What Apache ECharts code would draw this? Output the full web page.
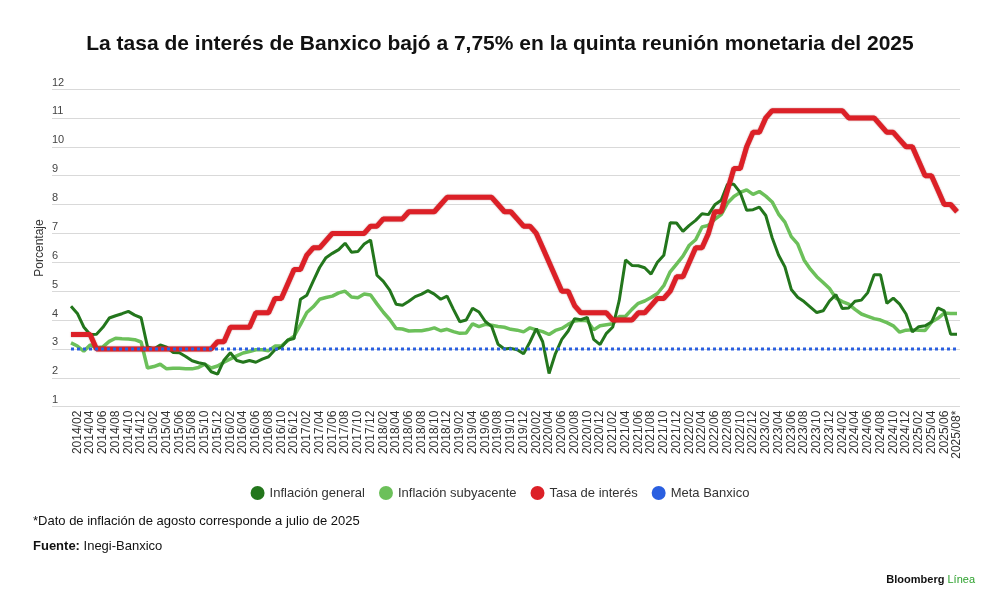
<!DOCTYPE html>
<html><head><meta charset="utf-8">
<script src="https://cdn.jsdelivr.net/npm/echarts@6/dist/echarts.min.js"></script>
<style>html,body{margin:0;padding:0;background:#fff}#c{width:1000px;height:608px}</style>
</head><body><div id="c"></div>
<script>
// Monthly categories 2014/01 .. 2025/08 (last one marked with *)
const startYear = 2014, endYear = 2025, lastMonth = 8;
const categories = [];
for (let y = startYear; y <= endYear; y++) {
  for (let m = 1; m <= 12; m++) {
    if (y === endYear && m > lastMonth) break;
    categories.push(y + '/' + String(m).padStart(2, '0'));
  }
}
categories[categories.length - 1] += '*';

// Inflación general (%), monthly
const inflacionGeneral = [
  4.48, 4.23, 3.76, 3.50, 3.51, 3.75, 4.07, 4.15, 4.22, 4.30, 4.17, 4.08,
  3.07, 3.00, 3.14, 3.06, 2.88, 2.87, 2.74, 2.59, 2.52, 2.48, 2.21, 2.13,
  2.61, 2.87, 2.60, 2.54, 2.60, 2.54, 2.65, 2.73, 2.97, 3.06, 3.31, 3.36,
  4.72, 4.86, 5.35, 5.82, 6.16, 6.31, 6.44, 6.66, 6.35, 6.37, 6.63, 6.77,
  5.55, 5.34, 5.04, 4.55, 4.51, 4.65, 4.81, 4.90, 5.02, 4.90, 4.72, 4.83,
  4.37, 3.94, 4.00, 4.41, 4.28, 3.95, 3.78, 3.16, 3.00, 3.02, 2.97, 2.83,
  3.24, 3.70, 3.25, 2.15, 2.84, 3.33, 3.62, 4.05, 4.01, 4.09, 3.33, 3.15,
  3.54, 3.76, 4.67, 6.08, 5.89, 5.88, 5.81, 5.59, 6.00, 6.24, 7.37, 7.36,
  7.07, 7.28, 7.45, 7.68, 7.65, 7.99, 8.15, 8.70, 8.70, 8.41, 7.80, 7.82,
  7.91, 7.62, 6.85, 6.25, 5.84, 5.06, 4.79, 4.64, 4.45, 4.26, 4.32, 4.66,
  4.88, 4.40, 4.42, 4.65, 4.69, 4.95, 5.57, 5.57, 4.58, 4.76, 4.55, 4.21,
  3.59, 3.77, 3.80, 3.93, 4.42, 4.32, 3.51, 3.51
];

// Inflación subyacente (%), monthly
const inflacionSubyacente = [
  3.21, 3.10, 2.92, 3.14, 3.04, 3.07, 3.26, 3.37, 3.35, 3.34, 3.32, 3.24,
  2.34, 2.39, 2.47, 2.31, 2.33, 2.33, 2.31, 2.31, 2.36, 2.47, 2.34, 2.41,
  2.54, 2.65, 2.76, 2.86, 2.91, 2.97, 2.97, 2.94, 3.10, 3.10, 3.29, 3.44,
  3.84, 4.26, 4.46, 4.72, 4.78, 4.83, 4.94, 5.00, 4.80, 4.77, 4.90, 4.87,
  4.56, 4.27, 4.02, 3.71, 3.69, 3.62, 3.63, 3.63, 3.67, 3.73, 3.63, 3.68,
  3.60, 3.54, 3.55, 3.87, 3.77, 3.85, 3.82, 3.78, 3.75, 3.68, 3.65, 3.59,
  3.73, 3.66, 3.60, 3.50, 3.64, 3.71, 3.85, 3.97, 3.99, 3.98, 3.66, 3.80,
  3.84, 3.87, 4.12, 4.13, 4.37, 4.58, 4.66, 4.78, 4.92, 5.19, 5.67, 5.94,
  6.21, 6.59, 6.78, 7.22, 7.28, 7.49, 7.65, 8.05, 8.28, 8.42, 8.51, 8.35,
  8.45, 8.29, 8.09, 7.67, 7.39, 6.89, 6.64, 6.08, 5.76, 5.50, 5.30, 5.09,
  4.76, 4.64, 4.55, 4.37, 4.21, 4.13, 4.05, 4.00, 3.91, 3.80, 3.58, 3.65,
  3.66, 3.65, 3.64, 3.93, 4.06, 4.24, 4.23, 4.23
];

// Tasa de interés objetivo (%), monthly
const tasaInteres = [
  3.50, 3.50, 3.50, 3.50, 3.00, 3.00, 3.00, 3.00, 3.00, 3.00, 3.00, 3.00,
  3.00, 3.00, 3.00, 3.00, 3.00, 3.00, 3.00, 3.00, 3.00, 3.00, 3.00, 3.25,
  3.25, 3.75, 3.75, 3.75, 3.75, 4.25, 4.25, 4.25, 4.75, 4.75, 5.25, 5.75,
  5.75, 6.25, 6.50, 6.50, 6.75, 7.00, 7.00, 7.00, 7.00, 7.00, 7.00, 7.25,
  7.25, 7.50, 7.50, 7.50, 7.50, 7.75, 7.75, 7.75, 7.75, 7.75, 8.00, 8.25,
  8.25, 8.25, 8.25, 8.25, 8.25, 8.25, 8.25, 8.00, 7.75, 7.75, 7.50, 7.25,
  7.25, 7.00, 6.50, 6.00, 5.50, 5.00, 5.00, 4.50, 4.25, 4.25, 4.25, 4.25,
  4.25, 4.00, 4.00, 4.00, 4.00, 4.25, 4.25, 4.50, 4.75, 4.75, 5.00, 5.50,
  5.50, 6.00, 6.50, 6.50, 7.00, 7.75, 7.75, 8.50, 9.25, 9.25, 10.00, 10.50,
  10.50, 11.00, 11.25, 11.25, 11.25, 11.25, 11.25, 11.25, 11.25, 11.25, 11.25, 11.25,
  11.25, 11.25, 11.00, 11.00, 11.00, 11.00, 11.00, 10.75, 10.50, 10.50, 10.25, 10.00,
  10.00, 9.50, 9.00, 9.00, 8.50, 8.00, 8.00, 7.75
];

// Meta de inflación de Banxico (%)
const metaValue = 3;
const metaBanxico = categories.map(() => metaValue);

const seriesNames = ['Inflación general', 'Inflación subyacente', 'Tasa de interés', 'Meta Banxico'];
const colors = ['#23761c', '#6cc05a', '#dc2027', '#2a5fe0'];

const yMin = 1, yMax = 12, yStep = 1;

const chart = echarts.init(document.getElementById('c'), null, { renderer: 'canvas' });
const font = '"Liberation Sans", Arial, sans-serif';

chart.setOption({
  backgroundColor: '#ffffff',
  animation: false,
  textStyle: { fontFamily: font },
  title: {
    text: 'La tasa de interés de Banxico bajó a 7,75% en la quinta reunión monetaria del 2025',
    left: 'center', top: 29,
    textStyle: { fontFamily: font, fontWeight: 'bold', fontSize: 21, color: '#111' }
  },
  legend: {
    data: seriesNames,
    top: 481, left: 'center',
    icon: 'circle', itemWidth: 14, itemHeight: 14, itemGap: 14,
    textStyle: { fontFamily: font, fontSize: 13, color: '#333' }
  },
  grid: [
    { left: 71, right: 43, top: 89, bottom: 201.3, containLabel: false },
    { left: 52, right: 40, top: 89, bottom: 201.3, containLabel: false }
  ],
  xAxis: [
    {
      type: 'category', gridIndex: 0, data: categories, boundaryGap: false,
      axisLine: { show: false }, axisTick: { show: false },
      axisLabel: {
        rotate: 90, margin: 4, fontSize: 12, color: '#333', fontFamily: font,
        interval: (idx) => idx % 2 === 1
      },
      splitLine: { show: false }
    },
    { type: 'value', gridIndex: 1, min: 0, max: 1, show: false }
  ],
  yAxis: [
    { type: 'value', gridIndex: 0, min: yMin, max: yMax, interval: yStep, show: false },
    {
      type: 'value', gridIndex: 1, min: yMin, max: yMax, interval: yStep,
      axisLine: { show: false }, axisTick: { show: false },
      axisLabel: {
        inside: true, margin: 0, fontSize: 11, color: '#444', fontFamily: font,
        verticalAlign: 'bottom', padding: [0, 0, 1, 0]
      },
      splitLine: { show: true, lineStyle: { color: '#d9d9d9', width: 1 } }
    }
  ],
  series: [
    {
      name: seriesNames[0], type: 'line', data: inflacionGeneral, z: 3,
      showSymbol: false, symbol: 'circle', color: colors[0],
      lineStyle: { color: colors[0], width: 3 }
    },
    {
      name: seriesNames[1], type: 'line', data: inflacionSubyacente, z: 2,
      showSymbol: false, symbol: 'circle', color: colors[1],
      lineStyle: { color: colors[1], width: 3.5 }
    },
    {
      name: seriesNames[2], type: 'line', data: tasaInteres, z: 4,
      showSymbol: false, symbol: 'circle', color: colors[2],
      lineStyle: { color: colors[2], width: 5, shadowColor: 'rgba(140,10,15,0.55)', shadowBlur: 1.5 }
    },
    {
      name: seriesNames[3], type: 'line', data: metaBanxico, z: 5,
      showSymbol: false, symbol: 'circle', color: colors[3],
      lineStyle: { color: colors[3], width: 3, type: [3, 3], cap: 'butt' }
    }
  ],
  graphic: [
    {
      type: 'text', x: 40, y: 248, rotation: Math.PI / 2,
      style: { text: 'Porcentaje', fontFamily: font, fontSize: 12, fill: '#333', align: 'center', verticalAlign: 'middle' }
    },
    {
      type: 'text', left: 33, top: 515,
      style: { text: '*Dato de inflación de agosto corresponde a julio de 2025', fontFamily: font, fontSize: 13, fill: '#111' }
    },
    {
      type: 'text', left: 33, top: 540,
      style: {
        text: '{b|Fuente:} Inegi-Banxico',
        fontFamily: font, fontSize: 13, fill: '#111',
        rich: { b: { fontFamily: font, fontSize: 13, fontWeight: 'bold', fill: '#111' } }
      }
    },
    {
      type: 'text', right: 25, top: 574,
      style: {
        text: '{b|Bloomberg} {g|Línea}',
        fontFamily: font, fontSize: 11,
        rich: {
          b: { fontFamily: font, fontSize: 11, fontWeight: 'bold', fill: '#111' },
          g: { fontFamily: font, fontSize: 11, fill: '#2da12d' }
        }
      }
    }
  ]
});
</script>
</body></html>
